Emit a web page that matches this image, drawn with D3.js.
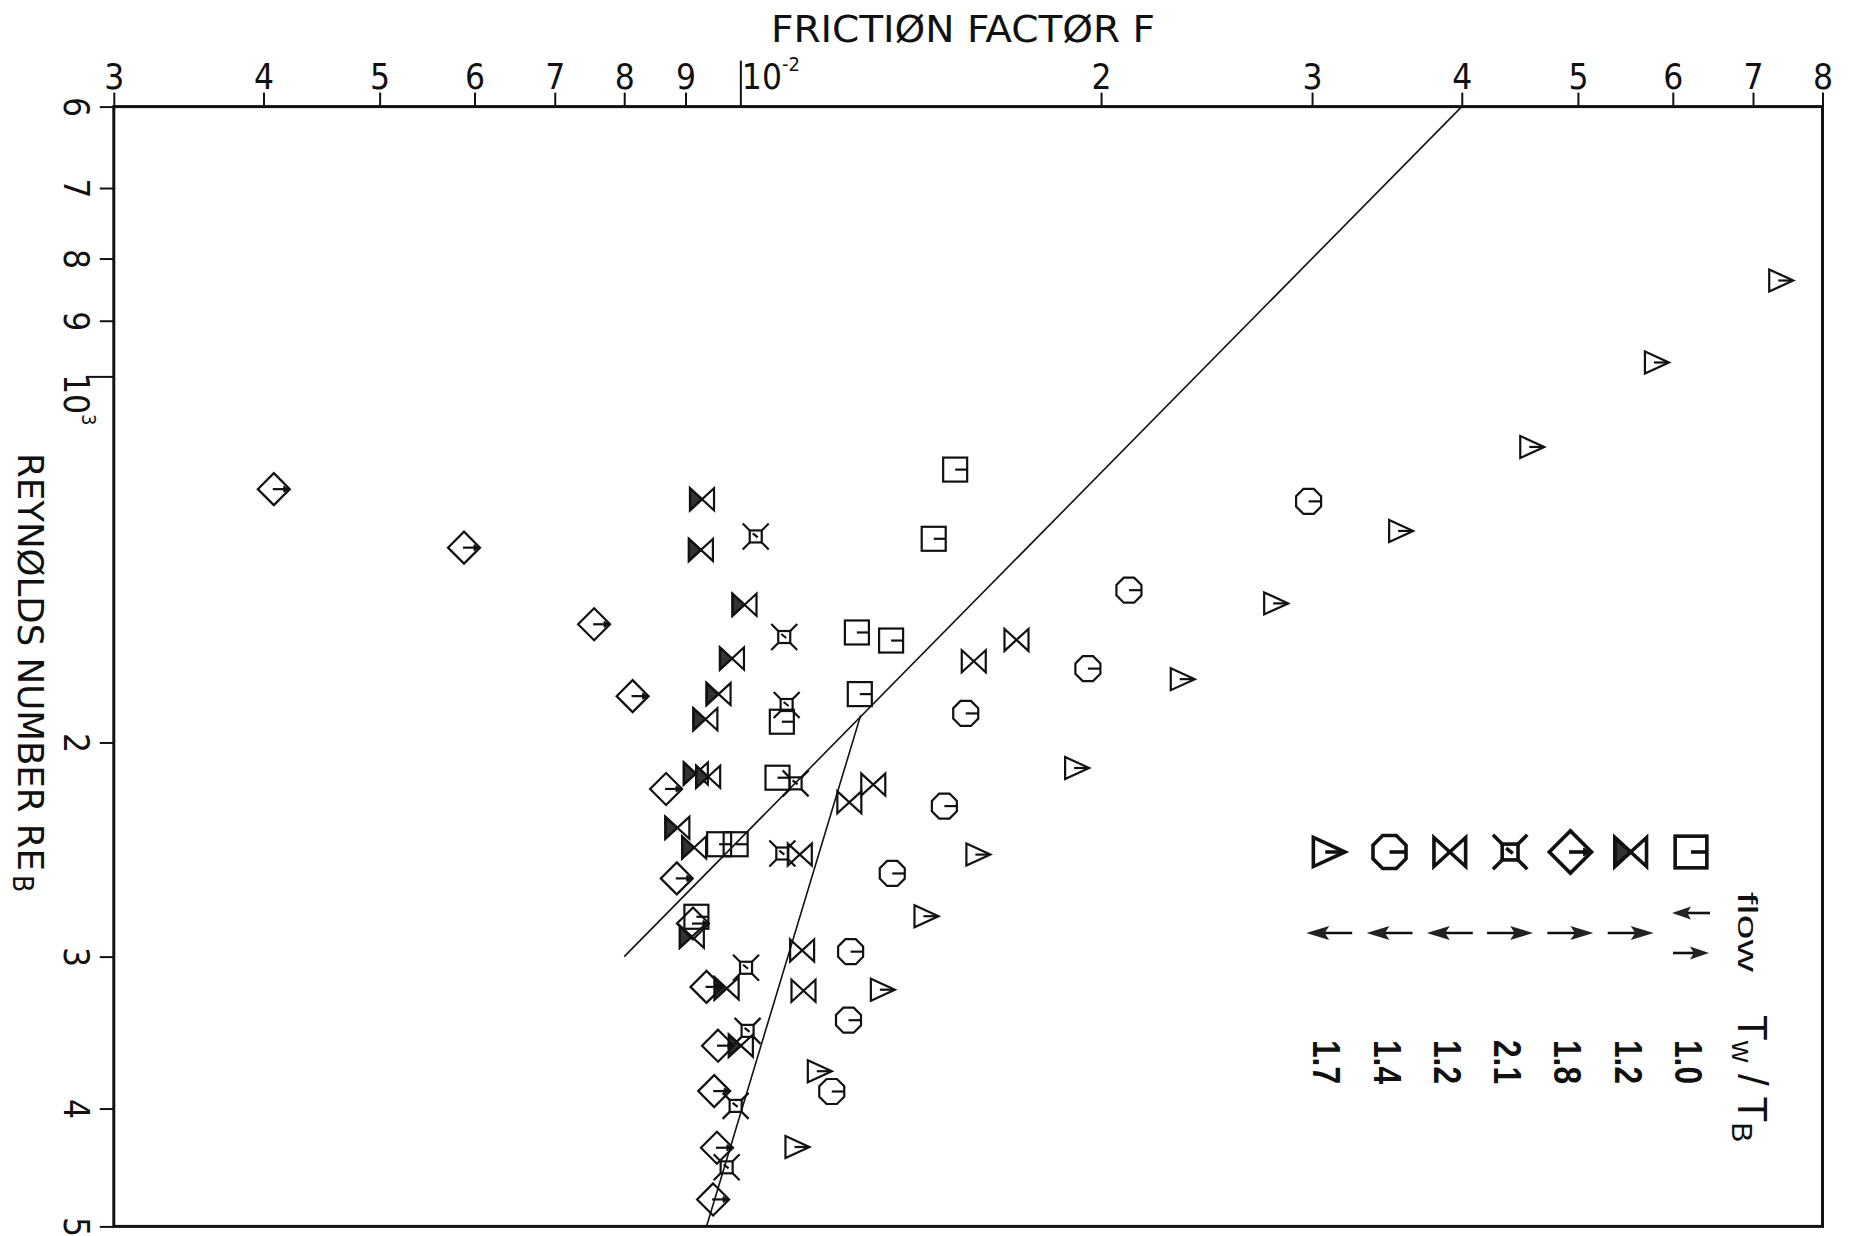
<!DOCTYPE html>
<html><head><meta charset="utf-8">
<script src="https://cdn.jsdelivr.net/npm/d3@7"></script>
<style>body{margin:0;background:#fff}</style>
</head><body>
<svg id="c" width="1858" height="1236"></svg>
<script>
// ---------- data ----------
const fTicks = [0.003,0.004,0.005,0.006,0.007,0.008,0.009,0.01,0.02,0.03,0.04,0.05,0.06,0.07,0.08];
const fTickLabels = ["3","4","5","6","7","8","9","10","2","3","4","5","6","7","8"];
const reTicks = [600,700,800,900,1000,2000,3000,4000,5000];
const reTickLabels = ["6","7","8","9","10","2","3","4","5"];

// Tw/Tb = 1.0 (both directions) - squares
const sqF  = [0.01511,0.0145,0.01251,0.01336,0.01258,0.01083,0.01074,0.00960,0.00991,0.00919];
const sqRe = [1193,1360,1624,1649,1825,1923,2138,2425,2425,2782];
// Tw/Tb = 1.2 (flow right) - filled bowties
const fbF  = [0.00929,0.00927,0.01008,0.00984,0.00959,0.00935,0.00918,0.00940,0.00886,0.00915,0.00911,0.00974,0.01001];
const fbRe = [1262,1389,1541,1706,1825,1914,2121,2134,2351,2440,2889,3186,3551];
// Tw/Tb = 1.8 (flow right) - diamonds
const dmF  = [0.00408,0.00588,0.00755,0.00813,0.00867,0.00885,0.00913,0.00937,0.00958,0.00951,0.00956,0.00949];
const dmRe = [1238,1383,1599,1832,2184,2587,2818,3177,3551,3870,4308,4751];
// Tw/Tb = 2.1 (flow right) - crossed squares
const xsF  = [0.0103,0.01088,0.01093,0.01112,0.01084,0.01011,0.01014,0.00991,0.00974];
const xsRe = [1354,1638,1863,2161,2468,3064,3453,3980,4471];
// Tw/Tb = 1.2 (flow left) - open bowties
const bwF  = [0.0170,0.01566,0.01291,0.01233,0.01121,0.01126,0.01129];
const bwRe = [1647,1715,2166,2240,2473,2965,3200];
// Tw/Tb = 1.4 (flow left) - octagons
const ocF  = [0.0298,0.0211,0.0195,0.01542,0.0148,0.01339,0.01236,0.01231,0.01192];
const ocRe = [1267,1499,1739,1893,2256,2563,2972,3384,3873];
// Tw/Tb = 1.7 (flow left) - triangles
const trF  = [0.0739,0.0582,0.0458,0.0356,0.0280,0.0234,0.0191,0.0158,0.0143,0.01315,0.01165,0.01116];
const trRe = [834,974,1143,1340,1537,1774,2099,2473,2779,3194,3727,4302];

// reference lines
const lamF = [0.04,0.008];   const lamRe = [600,3000];
const turbF = [0.0126,0.00937]; const turbRe = [1900,5000];

// legend
const legendTypes = ["square","fbowtie","diamond","xsquare","bowtie","octagon","triangle"];
const legendRatio = ["1.0","1.2","1.8","2.1","1.2","1.4","1.7"];
const legendFlow  = ["both","right","right","right","left","left","left"];

// ---------- drawing ----------
const W = 1858, H = 1236;
const L = 113.8, R = 1822.5, T = 106.6, B = 1226.4;
const svg = d3.select("#c");
svg.append("rect").attr("width",W).attr("height",H).attr("fill","#fff");

const x = d3.scaleLog().domain([0.003,0.08]).range([L,R]);
const y = d3.scaleLog().domain([600,5000]).range([T,B]);

const FONT = "'Liberation Sans Narrow','DejaVu Sans Condensed','DejaVu Sans',sans-serif";
const LFONT = "'Liberation Sans','DejaVu Sans',sans-serif";
const INK = "#111";

// top axis
const ax = svg.append("g").attr("transform",`translate(0,${T})`)
  .call(d3.axisTop(x).tickValues(fTicks).tickSize(14).tickPadding(4)
        .tickFormat((d,i)=>fTickLabels[i]));
ax.select(".domain").remove();
ax.selectAll("line").attr("stroke",INK).attr("stroke-width",2);
ax.selectAll("text").attr("font-family",FONT).attr("font-size",35).attr("fill",INK);
ax.selectAll(".tick").filter(d=>d===0.01).each(function(){
  const g=d3.select(this);
  g.select("line").attr("y2",-46);
  const t=g.select("text").attr("text-anchor","start").attr("x",1).text("10");
  t.append("tspan").attr("font-size",20).attr("dy",-18).text("-2");
});

// left axis
const ay = svg.append("g").attr("transform",`translate(${L},0)`)
  .call(d3.axisLeft(y).tickValues(reTicks).tickSize(14).tickFormat((d,i)=>reTickLabels[i]));
ay.select(".domain").remove();
ay.selectAll("line").attr("stroke",INK).attr("stroke-width",2);
ay.selectAll("text").attr("font-family",FONT).attr("font-size",35).attr("fill",INK)
  .attr("x",null).attr("dy",null).attr("y",0)
  .attr("text-anchor","middle").attr("transform","translate(-50,0) rotate(90)");
ay.selectAll(".tick").filter(d=>d===1000).each(function(){
  const g=d3.select(this);
  g.select("line").attr("x2",-28);
  const t=g.select("text").attr("text-anchor","start").attr("transform","translate(-50,-3) rotate(90)").text("10");
  t.append("tspan").attr("font-size",20).attr("dy",-18).text("3");
});

// frame
svg.append("rect").attr("x",L).attr("y",T).attr("width",R-L).attr("height",B-T)
  .attr("fill","none").attr("stroke",INK).attr("stroke-width",3);

// titles
svg.append("text").attr("x",771).attr("y",42).attr("font-family",FONT).attr("font-size",38)
  .attr("textLength",384).attr("lengthAdjust","spacingAndGlyphs").attr("fill",INK)
  .text("FRICTIØN FACTØR F");
const yt = svg.append("g").attr("transform","translate(18,453) rotate(90)");
yt.append("text").attr("x",0).attr("y",0).attr("font-family",FONT).attr("font-size",35)
  .attr("textLength",418).attr("lengthAdjust","spacingAndGlyphs").attr("fill",INK)
  .text("REYNØLDS NUMBER RE");
yt.append("text").attr("x",422).attr("y",5).attr("font-family",FONT).attr("font-size",28).attr("fill",INK)
  .text("B");

// lines
const line = d3.line().x(d=>x(d[0])).y(d=>y(d[1]));
const lines = svg.append("g").attr("fill","none").attr("stroke",INK).attr("stroke-width",1.6);
lines.append("path").attr("d",line(d3.zip(lamF,lamRe)));
lines.append("path").attr("d",line(d3.zip(turbF,turbRe)));

// symbols
function sym(g,type,k,sw){
  g.attr("fill","none").attr("stroke",INK).attr("stroke-width",sw).attr("stroke-linejoin","miter");
  if(type==="square"){
    g.append("rect").attr("x",-12*k).attr("y",-12*k).attr("width",24*k).attr("height",24*k);
    g.append("line").attr("x1",0).attr("y1",0).attr("x2",12*k).attr("y2",0);
  } else if(type==="bowtie"||type==="fbowtie"){
    if(type==="fbowtie") g.append("path").attr("d",`M${-12*k},${-11*k}L0,0L${-12*k},${11*k}Z`).attr("fill","#333");
    g.append("path").attr("d",`M${-12*k},${-11*k}L${-12*k},${11*k}L${12*k},${-11*k}L${12*k},${11*k}Z`);
  } else if(type==="diamond"){
    g.append("path").attr("d",`M0,${-16*k}L${16*k},0L0,${16*k}L${-16*k},0Z`);
    g.append("line").attr("x1",-1*k).attr("y1",0).attr("x2",13*k).attr("y2",0);
    g.append("path").attr("d",`M${15*k},0L${10*k},${-3*k}L${10*k},${3*k}Z`).attr("fill",INK).attr("stroke-width",1);
  } else if(type==="octagon"){
    const a=12.5*k, r=a/Math.cos(Math.PI/8);
    const pts=d3.range(8).map(i=>{const t=Math.PI/8+i*Math.PI/4;return [r*Math.cos(t),r*Math.sin(t)];});
    g.append("path").attr("d","M"+pts.map(p=>p.join(",")).join("L")+"Z");
    g.append("line").attr("x1",0).attr("y1",0).attr("x2",a).attr("y2",0);
  } else if(type==="triangle"){
    g.append("path").attr("d",`M${-12*k},${-11*k}L${12*k},0L${-12*k},${11*k}Z`);
    g.append("line").attr("x1",-3*k).attr("y1",0).attr("x2",11*k).attr("y2",0);
  } else if(type==="xsquare"){
    g.append("rect").attr("x",-6*k).attr("y",-6*k).attr("width",12*k).attr("height",12*k);
    [[1,1],[1,-1],[-1,1],[-1,-1]].forEach(([sx,sy])=>
      g.append("line").attr("x1",6*k*sx).attr("y1",6*k*sy).attr("x2",13*k*sx).attr("y2",13*k*sy));
    g.append("line").attr("x1",-3*k).attr("y1",-3*k).attr("x2",2*k).attr("y2",1*k);
  }
}

const series = [
  {type:"square",F:sqF,Re:sqRe},
  {type:"fbowtie",F:fbF,Re:fbRe},
  {type:"diamond",F:dmF,Re:dmRe},
  {type:"xsquare",F:xsF,Re:xsRe},
  {type:"bowtie",F:bwF,Re:bwRe},
  {type:"octagon",F:ocF,Re:ocRe},
  {type:"triangle",F:trF,Re:trRe}
];
const pts = svg.append("g");
series.forEach(s=>{
  pts.selectAll(null).data(d3.zip(s.F,s.Re)).enter().append("g")
    .attr("transform",d=>`translate(${x(d[0])},${y(d[1])})`)
    .each(function(){ sym(d3.select(this),s.type,1,2.2); });
});

// legend
const lg = svg.append("g");
function arrow(g,cx,cy,dir,len,head,hw){
  const s = dir==="left"?-1:1;
  const tip = cx + s*len/2, tail = cx - s*len/2;
  g.append("line").attr("x1",tail).attr("y1",cy).attr("x2",tip - s*head*0.6).attr("y2",cy)
    .attr("stroke",INK).attr("stroke-width",2.6);
  g.append("path").attr("d",`M${tip},${cy}L${tip-s*head},${cy-hw}L${tip-s*head*0.8},${cy}L${tip-s*head},${cy+hw}Z`).attr("fill","#222");
}
legendTypes.forEach((t,i)=>{
  const cx = 1691 - i*60.3;
  sym(lg.append("g").attr("transform",`translate(${cx},852)`),t,1.32,3.6);
  if(legendFlow[i]==="both"){
    arrow(lg,cx,913,"left",38,19,6.5);
    arrow(lg,cx,953,"right",36,19,6.5);
  } else {
    arrow(lg,cx,933,legendFlow[i],46,23,7);
  }
  lg.append("text").attr("transform",`translate(${cx-16},1062) rotate(90)`)
    .attr("text-anchor","middle").attr("font-family",LFONT)
    .attr("font-weight","bold").attr("font-size",38).attr("fill",INK)
    .attr("textLength",44).attr("lengthAdjust","spacingAndGlyphs")
    .text(legendRatio[i]);
});
const hd = lg.append("g").attr("transform","translate(1738,892) rotate(90)")
  .attr("font-family",LFONT).attr("fill",INK);
hd.append("text").attr("x",0).attr("y",0).attr("font-size",27)
  .attr("textLength",80).attr("lengthAdjust","spacingAndGlyphs").text("flow");
const tt = hd.append("text").attr("x",123).attr("y",0).attr("font-size",42);
tt.append("tspan").text("T");
tt.append("tspan").attr("font-size",30).attr("dy",6).text("w");
tt.append("tspan").attr("dy",-6).text(" / T");
tt.append("tspan").attr("font-size",30).attr("dy",6).text("B");
</script>
</body></html>
